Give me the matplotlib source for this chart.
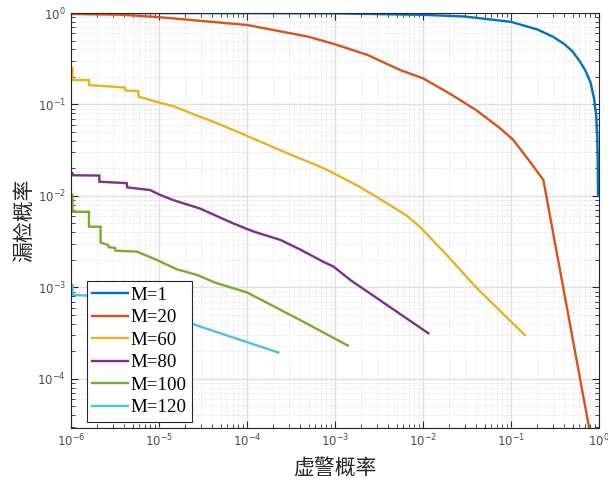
import matplotlib
matplotlib.use("Agg")
import matplotlib.pyplot as plt
from matplotlib.ticker import LogLocator, NullFormatter

# ---- data ----
labels = ["M=1", "M=20", "M=60", "M=80", "M=100", "M=120"]
colors = ["#0072BD", "#D95319", "#EDB120", "#7E2F8E", "#77AC30", "#4DBEEE"]

pfa_m1 = [1e-6, 1e-5, 1e-4, 1e-3, 1e-2, 0.03, 0.1, 0.2, 0.3, 0.4, 0.5, 0.6,
          0.7, 0.8, 0.88, 0.93, 0.955, 0.966, 0.972, 0.975]
pm_m1 = [0.9995, 0.999, 0.997, 0.99, 0.955, 0.915, 0.80, 0.66, 0.55, 0.46,
         0.38, 0.30, 0.235, 0.175, 0.115, 0.075, 0.045, 0.025, 0.015, 0.01]

pfa_m20 = [1e-6, 3.7e-6, 1e-5, 1e-4, 5e-4, 1e-3, 2.3e-3, 5.5e-3, 1e-2, 2e-2,
           4e-2, 7.5e-2, 0.106, 0.164, 0.233, 0.83]
pm_m20 = [0.975, 0.958, 0.90, 0.74, 0.55, 0.455, 0.35, 0.238, 0.193, 0.132,
          0.087, 0.055, 0.041, 0.0237, 0.015, 2.0e-5]

pfa_m60 = [1.04e-6, 1.04e-6, 1.6e-6, 1.6e-6, 4.1e-6, 4.15e-6, 5.8e-6, 5.9e-6,
           6.6e-6, 1.0e-5, 1.44e-5, 2.9e-5, 4.1e-5, 8.3e-5, 1e-4, 2.6e-4,
           7.4e-4, 1.05e-3, 1.9e-3, 3.9e-3, 6.5e-3, 9.2e-3, 1.86e-2, 4.1e-2,
           0.144]
pm_m60 = [0.25, 0.185, 0.185, 0.163, 0.153, 0.142, 0.14, 0.121, 0.118, 0.105,
          0.096, 0.0736, 0.065, 0.049, 0.0453, 0.0305, 0.0201, 0.017, 0.0126,
          0.0083, 0.0061, 0.0046, 0.00226, 0.00098, 0.0003]

pfa_m80 = [1.04e-6, 1.06e-6, 2.1e-6, 2.1e-6, 4.3e-6, 4.35e-6, 7.9e-6, 1.02e-5,
           1.45e-5, 2.9e-5, 7e-5, 1.17e-4, 2.4e-4, 4e-4, 7.4e-4, 9.6e-4,
           1.5e-3, 0.0115]
pm_m80 = [0.0177, 0.0168, 0.0167, 0.0143, 0.0138, 0.0124, 0.0116, 0.0103,
          0.009, 0.0073, 0.005, 0.0041, 0.0033, 0.0026, 0.0019, 0.00169,
          0.0012, 0.000315]

pfa_m100 = [1.04e-6, 1.04e-6, 1.6e-6, 1.6e-6, 2.17e-6, 2.17e-6, 2.65e-6, 2.68e-6,
            3.16e-6, 3.2e-6, 5.6e-6, 9.4e-6, 1.58e-5, 2.7e-5, 4.3e-5, 1e-4,
            4e-4, 1.4e-3]
pm_m100 = [0.0103, 0.0067, 0.0067, 0.0046, 0.0046, 0.0031, 0.0029, 0.00275,
           0.0027, 0.00252, 0.00246, 0.002, 0.00158, 0.00137, 0.00113,
           0.00088, 0.00044, 0.000231]

pfa_m120 = [1.04e-6, 1.04e-6, 2e-6, 5e-6, 1e-5, 2.25e-5, 2.27e-4]
pm_m120 = [0.00106, 0.00083, 0.0008, 0.00065, 0.0005, 0.000406, 0.000194]

series_x = [pfa_m1, pfa_m20, pfa_m60, pfa_m80, pfa_m100, pfa_m120]
series_y = [pm_m1, pm_m20, pm_m60, pm_m80, pm_m100, pm_m120]

xlabel_text = "虚警概率"
ylabel_text = "漏检概率"

# ---- figure ----
fig = plt.figure(figsize=(6.08, 4.83), dpi=100)
ax = fig.add_axes([71 / 608, 1 - 428 / 483, 528 / 608, 415 / 483])

for xs, ys, c, lab in zip(series_x, series_y, colors, labels):
    ax.plot(xs, ys, color=c, lw=1.7, label=lab, solid_joinstyle="miter")

ax.set_xscale("log")
ax.set_yscale("log")
ax.set_xlim(1e-6, 1)
ax.set_ylim(2.9e-5, 1)

axcol = "#262626"
ax.xaxis.set_major_locator(LogLocator(base=10, numticks=20))
ax.yaxis.set_major_locator(LogLocator(base=10, numticks=20))
ax.xaxis.set_minor_locator(LogLocator(base=10, subs=range(2, 10), numticks=20))
ax.yaxis.set_minor_locator(LogLocator(base=10, subs=range(2, 10), numticks=20))
ax.xaxis.set_minor_formatter(NullFormatter())
ax.yaxis.set_minor_formatter(NullFormatter())

ax.tick_params(which="both", direction="in", top=True, right=True,
               colors=axcol, labelcolor="#4d4d4d")
ax.tick_params(which="major", length=5, width=0.8, labelsize=8.5)
ax.tick_params(which="minor", length=2.8, width=0.6)
for s in ax.spines.values():
    s.set_color(axcol)
    s.set_linewidth(0.8)

ax.grid(True, which="major", color="#e0e0e0", lw=1.0, ls="-")
ax.grid(True, which="minor", color="#d3d3d3", lw=0.6, ls=(0, (1, 2)))
ax.set_axisbelow(True)

cjk = ["Noto Sans CJK SC", "DejaVu Sans"]
ax.set_xlabel(xlabel_text, family=cjk, fontsize=15, color="#262626", labelpad=6)
ax.set_ylabel(ylabel_text, family=cjk, fontsize=15, color="#262626", labelpad=2)

leg = ax.legend(loc="lower left", bbox_to_anchor=(0.03, 0.015), borderaxespad=0,
                prop={"family": "Liberation Serif", "size": 13.6},
                handlelength=1.9, handletextpad=0.12, labelspacing=0.28,
                borderpad=0.28, fancybox=False, framealpha=1, edgecolor="#262626")
leg.get_frame().set_linewidth(0.8)

fig.savefig("out.png", dpi=100)
